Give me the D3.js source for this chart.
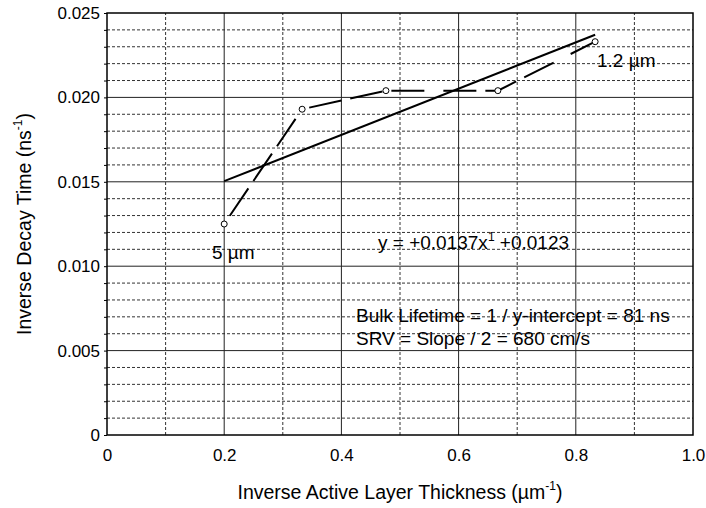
<!DOCTYPE html>
<html lang="en">
<head>
<meta charset="UTF-8">
<title>Inverse Decay Time vs Inverse Active Layer Thickness</title>
<script src="https://d3js.org/d3.v7.min.js"></script>
<style>
    body { margin: 0; background: #fff; }
    svg { font-family: "Liberation Sans", Arial, sans-serif; }
</style>
</head>
<body>
<div id="chart"></div>
<script>
    // measured points (1 / thickness, 1 / decay time)
    const invThickness = [0.2, 0.333, 0.476, 0.667, 0.833];
    const invDecay = [0.0125, 0.0193, 0.0204, 0.0204, 0.0233];

    // linear fit y = slope*x + intercept, drawn over the data range
    const fitSlope = 0.0137;
    const fitIntercept = 0.0123;
    const fitRange = [0.2, 0.833];

    const xTicks = [0, 0.2, 0.4, 0.6, 0.8, 1.0];
    const yTicks = [0, 0.005, 0.010, 0.015, 0.020, 0.025];

    const width = 706, height = 508;
    const margin = {top: 13, right: 13, bottom: 73, left: 107};

    const svg = d3.select("#chart").append("svg")
        .attr("width", width)
        .attr("height", height);

    const x = d3.scaleLinear().domain([0, 1]).range([margin.left, width - margin.right]);
    const y = d3.scaleLinear().domain([0, 0.025]).range([height - margin.bottom, margin.top]);

    const grid = svg.append("g");

    // minor horizontal grid every 0.001 (dashed), major every 0.005 (solid)
    d3.range(1, 25).forEach(i => {
        const v = i * 0.001;
        const major = i % 5 === 0;
        grid.append("line")
            .attr("x1", x(0)).attr("x2", x(1))
            .attr("y1", y(v)).attr("y2", y(v))
            .attr("stroke", major ? "#222" : "#333")
            .attr("stroke-width", 1)
            .attr("stroke-dasharray", major ? null : "3,2");
    });

    // vertical grid: solid at 0.2 steps, dashed in between
    d3.range(1, 10).forEach(i => {
        const v = i * 0.1;
        const major = i % 2 === 0;
        grid.append("line")
            .attr("x1", x(v)).attr("x2", x(v))
            .attr("y1", y(0)).attr("y2", y(0.025))
            .attr("stroke", major ? "#222" : "#333")
            .attr("stroke-width", 1)
            .attr("stroke-dasharray", major ? null : "3,2");
    });

    // frame
    svg.append("rect")
        .attr("x", x(0)).attr("y", y(0.025))
        .attr("width", x(1) - x(0))
        .attr("height", y(0) - y(0.025))
        .attr("fill", "none")
        .attr("stroke", "#000")
        .attr("stroke-width", 1.5);

    // y axis with small ticks every 0.001
    const yAxis = d3.axisLeft(y)
        .tickValues(d3.range(0, 26).map(i => i * 0.001))
        .tickSize(3)
        .tickFormat(d => {
            const hit = yTicks.find(t => Math.abs(t - d) < 1e-9);
            if (hit === undefined) return "";
            return hit === 0 ? "0" : d3.format(".3f")(hit);
        });
    svg.append("g")
        .attr("transform", `translate(${x(0)},0)`)
        .call(yAxis)
        .call(g => g.select(".domain").remove())
        .call(g => g.selectAll("text").attr("font-size", 17).attr("fill", "#000").attr("x", -7))
        .call(g => g.selectAll("line").attr("stroke", "#000"));

    // x axis labels
    const xAxis = d3.axisBottom(x)
        .tickValues(xTicks)
        .tickSize(0)
        .tickFormat(d => d === 0 ? "0" : d3.format(".1f")(d));
    svg.append("g")
        .attr("transform", `translate(0,${y(0)})`)
        .call(xAxis)
        .call(g => g.select(".domain").remove())
        .call(g => g.selectAll("text").attr("font-size", 17).attr("fill", "#000").attr("dy", "1.35em"));

    // fit line
    svg.append("line")
        .attr("x1", x(fitRange[0]))
        .attr("y1", y(fitSlope * fitRange[0] + fitIntercept))
        .attr("x2", x(fitRange[1]))
        .attr("y2", y(fitSlope * fitRange[1] + fitIntercept))
        .attr("stroke", "#000")
        .attr("stroke-width", 2);

    // data line, long dashes
    const pts = invThickness.map((v, i) => [v, invDecay[i]]);
    svg.append("path")
        .datum(pts)
        .attr("fill", "none")
        .attr("stroke", "#000")
        .attr("stroke-width", 2)
        .attr("stroke-dasharray", "0,10,33,9,33,9,33,9")
        .attr("d", d3.line().x(d => x(d[0])).y(d => y(d[1])));

    svg.selectAll("circle.pt")
        .data(pts)
        .join("circle")
        .attr("class", "pt")
        .attr("cx", d => x(d[0]))
        .attr("cy", d => y(d[1]))
        .attr("r", 3)
        .attr("fill", "#fff")
        .attr("stroke", "#000")
        .attr("stroke-width", 1);

    // annotations
    const ann = svg.append("g").attr("font-size", 19).attr("fill", "#000");
    ann.append("text").attr("x", 212).attr("y", 259).text("5 \u00b5m");
    ann.append("text").attr("x", 597).attr("y", 67).text("1.2 \u00b5m");

    const eq = ann.append("text").attr("x", 378).attr("y", 249);
    eq.append("tspan").text("y = +0.0137x");
    eq.append("tspan").attr("font-size", 12).attr("dy", -8).text("1");
    eq.append("tspan").attr("dy", 8).text(" +0.0123");

    ann.append("text").attr("x", 356).attr("y", 322).text("Bulk Lifetime = 1 / y-intercept = 81 ns");
    ann.append("text").attr("x", 356).attr("y", 345).text("SRV = Slope / 2 = 680 cm/s");

    // axis titles
    const xt = svg.append("text")
        .attr("x", (x(0) + x(1)) / 2)
        .attr("y", 499)
        .attr("text-anchor", "middle")
        .attr("font-size", 19.5);
    xt.append("tspan").text("Inverse Active Layer Thickness (\u00b5m");
    xt.append("tspan").attr("font-size", 12).attr("dy", -9).text("-1");
    xt.append("tspan").attr("dy", 9).text(")");

    const yt = svg.append("text")
        .attr("transform", `translate(31,${(y(0) + y(0.025)) / 2}) rotate(-90)`)
        .attr("text-anchor", "middle")
        .attr("font-size", 19.5);
    yt.append("tspan").text("Inverse Decay Time (ns");
    yt.append("tspan").attr("font-size", 12).attr("dy", -9).text("-1");
    yt.append("tspan").attr("dy", 9).text(")");
</script>
</body>
</html>
